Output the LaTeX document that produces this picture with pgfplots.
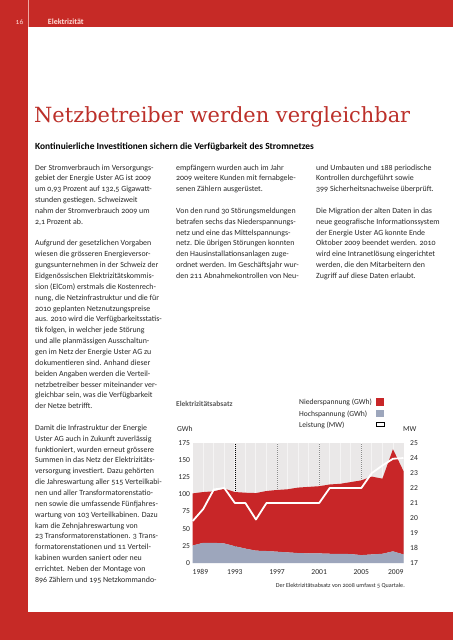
\documentclass[border=0pt]{standalone}
\usepackage{pgfplots}
\pgfplotsset{compat=1.18}
\usepackage{fontspec}
\setmainfont{Carlito}[Numbers=OldStyle]
\newfontfamily\titlefont{DejaVu Serif}
\newfontfamily\lining{Carlito}[Numbers=Lining]
\definecolor{pagered}{RGB}{198,42,38}
\definecolor{titlered}{RGB}{188,48,42}
\definecolor{nsred}{RGB}{200,38,40}
\definecolor{hsblue}{RGB}{157,166,188}
\definecolor{bggray}{RGB}{234,232,232}
\definecolor{textgray}{RGB}{40,40,40}
\definecolor{bandtext}{RGB}{255,222,215}

\pgfplotstableread{
year hs ns
1989 25.5 76
1990 29.5 74
1991 29.5 75
1992 28.5 80
1993 24.5 79
1994 21 81.5
1995 18 84
1996 17.5 87.5
1997 16.5 90
1998 15.5 92
1999 14.5 95.5
2000 14 97
2001 14 98
2002 13.5 101
2003 13.5 102
2004 13 105
2005 11.5 109
2006 12.5 113.5
2007 13.5 109.5
2008 17 149
2009 12.5 121.5
}\absatz

\pgfplotstableread{
year mw
1989 19.8
1990 20.6
1991 21.9
1992 22
1993 21
1994 21
1995 19.9
1996 21
1997 21
1998 21
1999 21
2000 21
2001 21
2002 22
2003 22
2004 22
2005 22
2006 23
2007 23.5
2008 23.95
2009 24
}\leistung

\newcommand{\bodyfont}{\fontsize{7.9}{9}\selectfont}
\newcommand{\Ln}[3]{\pgfmathsetmacro{\yy}{-(170+10.85*#2)}\node[anchor=base west,inner sep=0pt,font=\bodyfont,text=textgray] at (#1pt,\yy pt) {#3};}

\begin{document}
\begin{tikzpicture}
\path[use as bounding box] (0,0) rectangle (453pt,-640pt);
\fill[white] (0,0) rectangle (453pt,-640pt);
% page frame
\fill[pagered] (0,0) rectangle (453pt,-27.3pt);
\fill[pagered] (0,0) rectangle (28.3pt,-640pt);
\fill[pagered] (0,-611.7pt) rectangle (453pt,-640pt);
\draw[bandtext!70!pagered, line width=0.6pt] (28pt,0) -- (28pt,-27.3pt);
\node[anchor=base,inner sep=0pt,font=\fontsize{7.5}{8}\selectfont,text=bandtext] at (19.5pt,-24pt) {16};
\node[anchor=base west,inner sep=0pt,font=\bfseries\fontsize{8}{9}\selectfont,text=bandtext] at (47.7pt,-24pt) {Elektrizität};

% title
\node[anchor=base west,inner sep=0pt,font=\titlefont\fontsize{20.9}{24}\selectfont,text=titlered] at (34pt,-122pt) {Netzbetreiber werden vergleichbar};
\node[anchor=base west,inner sep=0pt,font=\bfseries\fontsize{9.4}{11}\selectfont,text=black] at (35pt,-149pt) {Kontinuierliche Investitionen sichern die Verfügbarkeit des Stromnetzes};

% column 1
\Ln{35}{0}{Der Stromverbrauch im Versorgungs-}
\Ln{35}{1}{gebiet der Energie Uster AG ist 2009}
\Ln{35}{2}{um 0,93 Prozent auf 132,5 Gigawatt-}
\Ln{35}{3}{stunden gestiegen. Schweizweit}
\Ln{35}{4}{nahm der Stromverbrauch 2009 um}
\Ln{35}{5}{2,1 Prozent ab.}
\Ln{35}{7}{Aufgrund der gesetzlichen Vorgaben}
\Ln{35}{8}{wiesen die grösseren Energieversor-}
\Ln{35}{9}{gungsunternehmen in der Schweiz der}
\Ln{35}{10}{Eidgenössischen Elektrizitätskommis-}
\Ln{35}{11}{sion (ElCom) erstmals die Kostenrech-}
\Ln{35}{12}{nung, die Netzinfrastruktur und die für}
\Ln{35}{13}{2010 geplanten Netznutzungspreise}
\Ln{35}{14}{aus. 2010 wird die Verfügbarkeitsstatis-}
\Ln{35}{15}{tik folgen, in welcher jede Störung}
\Ln{35}{16}{und alle planmässigen Ausschaltun-}
\Ln{35}{17}{gen im Netz der Energie Uster AG zu}
\Ln{35}{18}{dokumentieren sind. Anhand dieser}
\Ln{35}{19}{beiden Angaben werden die Verteil-}
\Ln{35}{20}{netzbetreiber besser miteinander ver-}
\Ln{35}{21}{gleichbar sein, was die Verfügbarkeit}
\Ln{35}{22}{der Netze betrifft.}
\Ln{35}{24}{Damit die Infrastruktur der Energie}
\Ln{35}{25}{Uster AG auch in Zukunft zuverlässig}
\Ln{35}{26}{funktioniert, wurden erneut grössere}
\Ln{35}{27}{Summen in das Netz der Elektrizitäts-}
\Ln{35}{28}{versorgung investiert. Dazu gehörten}
\Ln{35}{29}{die Jahreswartung aller 515 Verteilkabi-}
\Ln{35}{30}{nen und aller Transformatorenstatio-}
\Ln{35}{31}{nen sowie die umfassende Fünfjahres-}
\Ln{35}{32}{wartung von 103 Verteilkabinen. Dazu}
\Ln{35}{33}{kam die Zehnjahreswartung von}
\Ln{35}{34}{23 Transformatorenstationen. 3 Trans-}
\Ln{35}{35}{formatorenstationen und 11 Verteil-}
\Ln{35}{36}{kabinen wurden saniert oder neu}
\Ln{35}{37}{errichtet. Neben der Montage von}
\Ln{35}{38}{896 Zählern und 195 Netzkommando-}
% column 2
\Ln{176}{0}{empfängern wurden auch im Jahr}
\Ln{176}{1}{2009 weitere Kunden mit fernabgele-}
\Ln{176}{2}{senen Zählern ausgerüstet.}
\Ln{176}{4}{Von den rund 30 Störungsmeldungen}
\Ln{176}{5}{betrafen sechs das Niederspannungs-}
\Ln{176}{6}{netz und eine das Mittelspannungs-}
\Ln{176}{7}{netz. Die übrigen Störungen konnten}
\Ln{176}{8}{den Hausinstallationsanlagen zuge-}
\Ln{176}{9}{ordnet werden. Im Geschäftsjahr wur-}
\Ln{176}{10}{den 211 Abnahmekontrollen von Neu-}
% column 3
\Ln{316}{0}{und Umbauten und 188 periodische}
\Ln{316}{1}{Kontrollen durchgeführt sowie}
\Ln{316}{2}{399 Sicherheitsnachweise überprüft.}
\Ln{316}{4}{Die Migration der alten Daten in das}
\Ln{316}{5}{neue geografische Informationssystem}
\Ln{316}{6}{der Energie Uster AG konnte Ende}
\Ln{316}{7}{Oktober 2009 beendet werden. 2010}
\Ln{316}{8}{wird eine Intranetlösung eingerichtet}
\Ln{316}{9}{werden, die den Mitarbeitern den}
\Ln{316}{10}{Zugriff auf diese Daten erlaubt.}

% chart header and legend
\node[anchor=base west,inner sep=0pt,font=\bfseries\fontsize{7.5}{9}\selectfont,text=black!65] at (176pt,-406pt) {Elektrizitätsabsatz};
\node[anchor=base west,inner sep=0pt,font=\fontsize{7.6}{9}\selectfont,text=textgray] at (299pt,-404.3pt) {Niederspannung (GWh)};
\node[anchor=base west,inner sep=0pt,font=\fontsize{7.6}{9}\selectfont,text=textgray] at (299pt,-416pt) {Hochspannung (GWh)};
\node[anchor=base west,inner sep=0pt,font=\fontsize{7.6}{9}\selectfont,text=textgray] at (299pt,-427pt) {Leistung (MW)};
\fill[nsred] (375.5pt,-397.8pt) rectangle (383.5pt,-405.5pt);
\fill[hsblue] (375.5pt,-409.5pt) rectangle (383.5pt,-417.2pt);
\draw[black, line width=0.8pt, fill=white] (375.9pt,-422.6pt) rectangle (383.9pt,-426.2pt);
\node[anchor=base west,inner sep=0pt,font=\lining\fontsize{7.6}{9}\selectfont,text=textgray] at (177pt,-431pt) {GWh};
\node[anchor=base west,inner sep=0pt,font=\lining\fontsize{7.6}{9}\selectfont,text=textgray] at (403pt,-431pt) {MW};

\begin{axis}[
  at={(192.7pt,-563pt)}, anchor=south west,
  scale only axis, width=210.8pt, height=120pt,
  xmin=1989, xmax=2009, ymin=0, ymax=175,
  axis line style={draw=none}, tick style={draw=none},
  axis background/.style={fill=bggray},
  ytick={0,25,...,175},
  xtick={1989,1993,1997,2001,2005,2009},
  xticklabels={\makebox[0pt][l]{1989},1993,1997,2001,2005,\makebox[0pt][r]{2009}},
  /pgf/number format/assume math mode=true,
  yticklabel style={font=\lining\fontsize{7.6}{8}\selectfont, text=textgray, inner sep=0pt, anchor=east, xshift=-2.5pt},
  xticklabel style={font=\lining\fontsize{7.6}{8}\selectfont, text=textgray, inner sep=0pt, anchor=north, yshift=-6pt},
  stack plots=y, clip=false,
]
\addplot[fill=hsblue, draw=none] table[x=year, y=hs] {\absatz} \closedcycle;
\addplot[fill=nsred, draw=none] table[x=year, y=ns] {\absatz} \closedcycle;
\pgfplotsinvokeforeach{1990,1991,1992,1994,1995,1996,1998,1999,2000,2002,2003,2004,2006,2007,2008}{
  \draw[white, opacity=0.55, line width=0.9pt] (axis cs:#1,0) -- (axis cs:#1,175);
}
\pgfplotsinvokeforeach{1993,1997,2001,2005}{
  \draw[white, opacity=0.55, line width=0.9pt] (axis cs:#1,0) -- (axis cs:#1,175);
  \draw[black, line width=0.6pt, dash pattern=on 1pt off 1pt] (axis cs:#1,0) -- (axis cs:#1,175);
}
\end{axis}

\begin{axis}[
  at={(192.7pt,-563pt)}, anchor=south west,
  scale only axis, width=210.8pt, height=120pt,
  xmin=1989, xmax=2009, ymin=17, ymax=25,
  axis x line=none, axis y line*=right,
  axis line style={draw=none}, tick style={draw=none},
  ytick={17,18,...,25},
  /pgf/number format/assume math mode=true,
  yticklabel style={font=\lining\fontsize{7.6}{8}\selectfont, text=textgray, inner sep=0pt, anchor=west, xshift=6.5pt},
  clip=false,
]
\addplot[white, line width=1.8pt, line join=round, mark=none] table[x=year, y=mw] {\leistung};
\end{axis}

\node[anchor=base east,inner sep=0pt,font=\fontsize{6.1}{7}\selectfont,text=textgray] at (405pt,-587pt) {Der Elektrizitätsabsatz von 2008 umfasst 5 Quartale.};
\end{tikzpicture}
\end{document}
